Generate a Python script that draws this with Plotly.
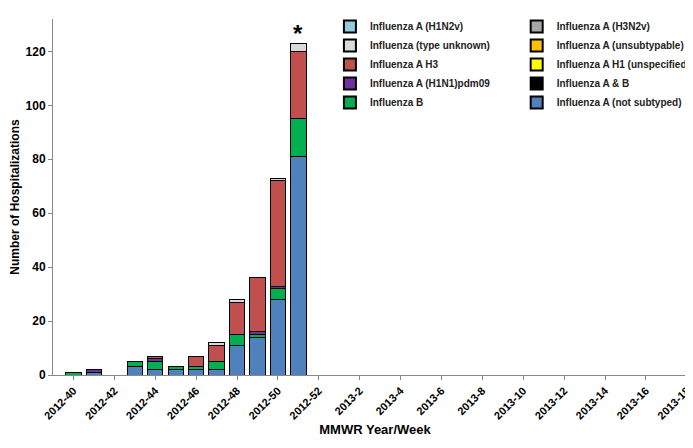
import plotly.graph_objects as go

weeks = [f"2012-{w}" for w in range(40, 53)] + [f"2013-{w}" for w in range(1, 19)]
tick_labels = weeks[::2]

pad = [0] * 19
not_subtyped = [0, 1, 0, 3, 2, 2, 2, 2, 11, 14, 28, 81] + pad
flu_b = [1, 0, 0, 2, 3, 1, 1, 3, 4, 1, 4, 14] + pad
pdm09 = [0, 1, 0, 0, 1, 0, 0, 0, 0, 1, 1, 0] + pad
h3 = [0, 0, 0, 0, 1, 0, 4, 6, 12, 20, 39, 25] + pad
type_unknown = [0, 0, 0, 0, 0, 0, 0, 1, 1, 0, 1, 3] + pad
zeros = [0] * 31

# (name, values, colour, legend, rank) - stacking order bottom to top
series = [
    ("Influenza A (not subtyped)", not_subtyped, "#4F81BD", "legend2", 10),
    ("Influenza B", flu_b, "#00B050", "legend", 9),
    ("Influenza A (H1N1)pdm09", pdm09, "#7030A0", "legend", 8),
    ("Influenza A & B", zeros, "#000000", "legend2", 9),
    ("Influenza A H1 (unspecified)", zeros, "#FFFF00", "legend2", 8),
    ("Influenza A (unsubtypable)", zeros, "#FFC000", "legend2", 7),
    ("Influenza A H3", h3, "#C0504D", "legend", 7),
    ("Influenza A (H3N2v)", zeros, "#A6A6A6", "legend2", 6),
    ("Influenza (type unknown)", type_unknown, "#D9D9D9", "legend", 6),
    ("Influenza A (H1N2v)", zeros, "#93CDDD", "legend", 5),
]

fig = go.Figure()
for name, vals, color, leg, rank in series:
    fig.add_trace(go.Bar(
        name=name, x=weeks, y=vals, marker_color=color,
        marker_line=dict(color="black", width=1),
        legend=leg, legendrank=rank,
    ))

legend_style = dict(
    font=dict(family="Arial, sans-serif", size=10, color="#222", weight="bold"),
    bgcolor="rgba(0,0,0,0)", yanchor="top", y=1.02, xanchor="left",
    traceorder="normal", itemwidth=30, tracegroupgap=0,
    itemsizing="constant", entrywidth=0,
)

fig.update_layout(
    barmode="stack", bargap=0.25,
    width=693, height=448,
    margin=dict(l=45, r=4, t=5, b=81),
    plot_bgcolor="white", paper_bgcolor="white",
    font=dict(family="Arial, sans-serif", color="black"),
    legend=dict(x=0.43, **legend_style),
    legend2=dict(x=0.72, **legend_style),
    xaxis=dict(
        type="category", range=[-1, 30.5],
        tickmode="array", tickvals=tick_labels, ticktext=tick_labels,
        tickangle=-45, tickfont=dict(size=11, weight="bold"),
        showline=True, linecolor="#888", ticks="outside", ticklen=4, tickcolor="#888",
        title=dict(text="<b>MMWR Year/Week</b>", font=dict(size=13), standoff=4),
    ),
    yaxis=dict(
        range=[0, 132], dtick=20, showgrid=False, showline=True, linecolor="#888",
        ticks="outside", ticklen=4, tickcolor="#888",
        tickfont=dict(size=12, weight="bold"),
        title=dict(text="<b>Number of Hospitalizations</b>", font=dict(size=12), standoff=4),
    ),
)

fig.add_annotation(x="2012-51", y=123, text="<b>*</b>", showarrow=False,
                   yanchor="bottom", font=dict(size=24), yshift=-6)
fig.add_annotation(xref="paper", yref="paper", x=-0.035, y=-0.2, xanchor="left",
                   yanchor="top", text="* Indicates current week", showarrow=False,
                   font=dict(size=10, color="#222"))

fig.write_html("out.html")
